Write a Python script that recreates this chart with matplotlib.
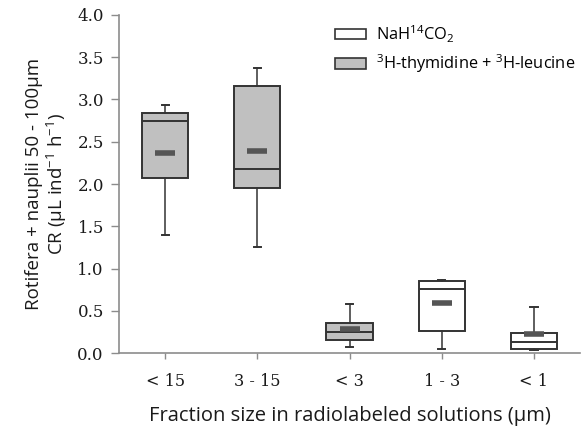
import matplotlib

matplotlib.use("Agg")
import matplotlib.pyplot as plt  # noqa: E402
from matplotlib.patches import Patch  # noqa: E402

# per-fraction box statistics (CR, µL ind-1 h-1)
CATEGORIES = ["< 15", "3 - 15", "< 3", "1 - 3", "< 1"]
WHISK_LO = [1.40, 1.25, 0.07, 0.05, 0.04]
Q1 = [2.07, 1.95, 0.15, 0.26, 0.05]
MEDIAN = [2.74, 2.18, 0.25, 0.76, 0.13]
Q3 = [2.84, 3.16, 0.36, 0.85, 0.24]
WHISK_HI = [2.93, 3.37, 0.58, 0.87, 0.54]
MEAN = [2.37, 2.39, 0.28, 0.59, 0.23]
TRACER = ["3H", "3H", "3H", "14C", "14C"]

FILL = {"14C": "white", "3H": "#c0c0c0"}
EDGE = "#333333"
AXGREY = "#8c8c8c"
SERIF = "DejaVu Serif"
SANS = "Open Sans"

plt.rcParams["mathtext.fontset"] = "custom"
plt.rcParams["mathtext.rm"] = SANS
plt.rcParams["mathtext.it"] = SANS + ":italic"
plt.rcParams["mathtext.bf"] = SANS + ":bold"
plt.rcParams["mathtext.default"] = "rm"

fig = plt.figure(figsize=(5.84, 4.26), dpi=100)
ax = fig.add_axes([0.204, 0.171, 0.789, 0.794])

stats = [dict(label=c, whislo=lo, q1=a, med=m, q3=b, whishi=hi, mean=mu, fliers=[])
         for c, lo, a, m, b, hi, mu in zip(CATEGORIES, WHISK_LO, Q1, MEDIAN, Q3, WHISK_HI, MEAN)]
pos = list(range(1, len(stats) + 1))
bp = ax.bxp(stats, positions=pos, widths=0.5, patch_artist=True, showmeans=True,
            capwidths=0.08,
            boxprops=dict(edgecolor=EDGE, linewidth=1.4),
            medianprops=dict(color=EDGE, linewidth=1.4),
            whiskerprops=dict(color=EDGE, linewidth=1.1),
            capprops=dict(color=EDGE, linewidth=1.4),
            meanprops=dict(marker="_", markersize=14, markeredgewidth=4,
                           markeredgecolor="#555555"))
for box, tr in zip(bp["boxes"], TRACER):
    box.set_facecolor(FILL[tr])

ax.set_xlim(0.5, 5.5)
ax.set_ylim(0, 4.0)
ax.set_yticks([0, 0.5, 1.0, 1.5, 2.0, 2.5, 3.0, 3.5, 4.0])
ax.set_yticklabels([f"{v:.1f}" for v in ax.get_yticks()], family=SERIF, fontsize=12)
ax.set_xticks(pos)
ax.set_xticklabels(CATEGORIES, family=SERIF, fontsize=11.5)
for s in ["top", "right"]:
    ax.spines[s].set_visible(False)
for s in ["left", "bottom"]:
    ax.spines[s].set_color(AXGREY)
    ax.spines[s].set_linewidth(1.2)
ax.tick_params(axis="y", colors=AXGREY, labelcolor="#1a1a1a", length=6, width=1, pad=5)
ax.tick_params(axis="x", colors=AXGREY, labelcolor="#1a1a1a", length=4, width=1, pad=10)

ax.set_ylabel("Rotifera + nauplii 50 - 100µm\nCR (µL ind$^{-1}$ h$^{-1}$)",
              family=SANS, fontsize=13.5, color="#1a1a1a", linespacing=1.1, labelpad=6)
ax.set_xlabel("Fraction size in radiolabeled solutions (µm)", family=SANS, fontsize=14.5,
              color="#1a1a1a", labelpad=12)

handles = [Patch(facecolor=FILL["14C"], edgecolor=EDGE, linewidth=1.2, label="NaH$^{14}$CO$_2$"),
           Patch(facecolor=FILL["3H"], edgecolor=EDGE, linewidth=1.2,
                 label="$^{3}$H-thymidine + $^{3}$H-leucine")]
leg = ax.legend(handles=handles, loc="upper left", bbox_to_anchor=(0.455, 0.995), frameon=False,
                prop=dict(family=SANS, size=11.8), handlelength=1.9, handleheight=0.6,
                handletextpad=0.6, labelspacing=0.5, borderaxespad=0)

fig.savefig("out.png", dpi=100)
